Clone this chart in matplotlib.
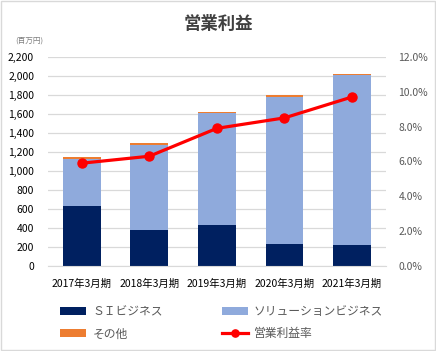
import numpy as np
import matplotlib.pyplot as plt
from matplotlib.patches import Rectangle

plt.rcParams['font.family'] = ['Noto Sans CJK JP', 'DejaVu Sans']

periods = ['2017年3月期', '2018年3月期', '2019年3月期', '2020年3月期', '2021年3月期']
si = [630, 380, 430, 230, 220]
solution = [500, 895, 1175, 1545, 1785]
other = [20, 15, 10, 20, 15]
margin = [5.9, 6.3, 7.9, 8.5, 9.7]

c_si = '#002060'
c_sol = '#8FAADC'
c_oth = '#ED7D31'
c_line = '#FF0000'
txt = '#595959'

fig = plt.figure(figsize=(4.36, 3.51), dpi=100)
fig.patches.append(Rectangle((0.002, 0.002), 0.996, 0.994, transform=fig.transFigure,
                             fill=False, edgecolor='#D9D9D9', lw=1))
ax = fig.add_axes([0.110, 0.242, 0.775, 0.596])

x = np.arange(len(periods))
w = 0.56
b1 = ax.bar(x, si, w, color=c_si, label='ＳＩビジネス', zorder=2)
b2 = ax.bar(x, solution, w, bottom=si, color=c_sol, label='ソリューションビジネス', zorder=2)
bot = np.array(si) + np.array(solution)
b3 = ax.bar(x, other, w, bottom=bot, color=c_oth, label='その他', zorder=2)

ax.set_ylim(0, 2200)
ax.set_yticks(range(0, 2201, 200))
ax.set_yticklabels([f'{v:,}' for v in range(0, 2201, 200)])
ax.set_xlim(-0.5, 4.5)
ax.set_xticks(x)
ax.set_xticklabels(periods)
ax.grid(axis='y', color='#D9D9D9', lw=0.9, zorder=0)
for s in ['top', 'left', 'right']:
    ax.spines[s].set_visible(False)
ax.spines['bottom'].set_color('#D9D9D9')
ax.tick_params(axis='both', length=0, labelsize=7.5, colors='#000000')
ax.tick_params(axis='y', pad=10)
ax.tick_params(axis='x', pad=9)

ax2 = ax.twinx()
ln, = ax2.plot(x, margin, color=c_line, lw=2.3, marker='o', markersize=6.5,
               label='営業利益率', zorder=3)
ax2.set_ylim(0, 12)
ax2.set_yticks(range(0, 13, 2))
ax2.set_yticklabels([f'{v:.1f}%' for v in range(0, 13, 2)])
for s in ax2.spines.values():
    s.set_visible(False)
ax2.tick_params(axis='y', length=0, labelsize=7.5, colors=txt, pad=9)

fig.text(0.5, 0.932, '営業利益', ha='center', va='center', fontsize=12.5,
         fontweight='bold', color='#404040')
fig.text(0.035, 0.885, '(百万円)', ha='left', va='center', fontsize=5.5, color='#7F7F7F')

fig.legend([b1, b3, b2, ln], ['ＳＩビジネス', 'その他', 'ソリューションビジネス', '営業利益率'],
           ncol=2, loc='upper left', bbox_to_anchor=(0.125, 0.148), frameon=False,
           fontsize=8.5, handlelength=2.2, handleheight=0.6, handletextpad=0.5,
           columnspacing=5.0, labelspacing=0.8, labelcolor=txt, borderpad=0,
           markerscale=0.8)

fig.savefig('out.png', dpi=100)
